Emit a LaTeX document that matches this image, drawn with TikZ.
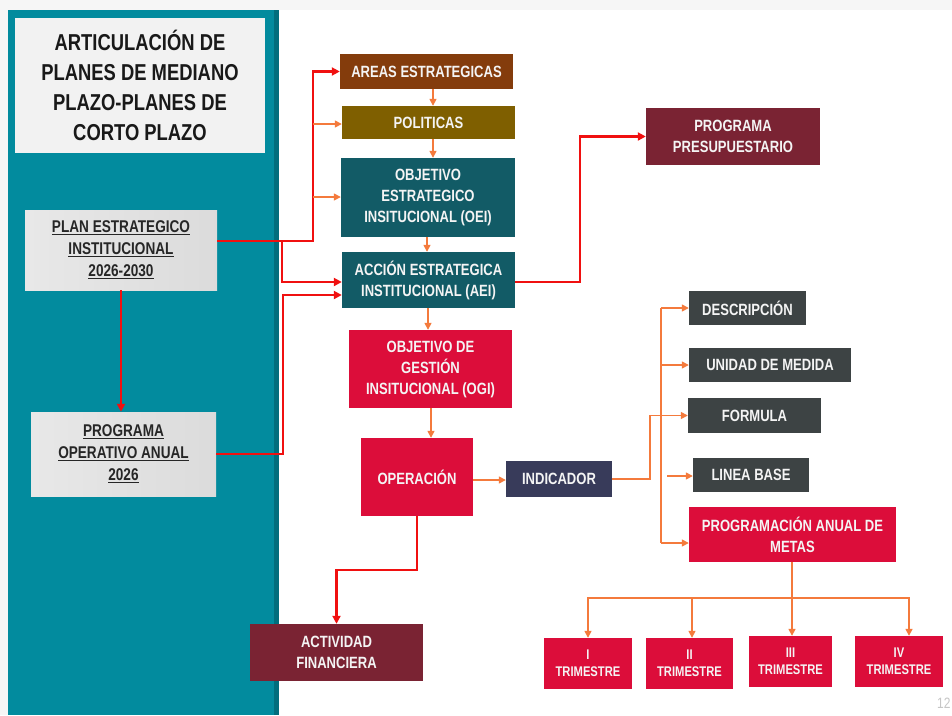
\documentclass[tikz,border=0pt]{standalone}
\usepackage{fontspec}
\newfontfamily\nf[FakeStretch=0.8]{Liberation Sans}
\usetikzlibrary{arrows.meta}
\definecolor{cTeal}{HTML}{028B9E}
\definecolor{cTealD}{HTML}{016E7D}
\definecolor{cAreas}{HTML}{843C0C}
\definecolor{cPol}{HTML}{7F5F00}
\definecolor{cOei}{HTML}{125B66}
\definecolor{cCrim}{HTML}{DC0D3A}
\definecolor{cInd}{HTML}{383B5A}
\definecolor{cGrey}{HTML}{3D4344}
\definecolor{cMar}{HTML}{7A2333}
\definecolor{cRed}{HTML}{F01010}
\definecolor{cOr}{HTML}{F47A3C}
\definecolor{cTxt}{HTML}{F4F4F4}
\newcommand\myul[1]{\leavevmode\vtop{\hbox{#1}\kern0.8pt\hrule height 1.3pt}}
\begin{document}
\begin{tikzpicture}[x=1pt,y=-1pt,
  box/.style={draw=none, inner sep=0pt, align=center, text=cTxt,
    font=\nf\bfseries\fontsize{16.3}{21}\selectfont},
  marble/.style={inner sep=0pt, align=center, text=black!85,
    left color=gray!18, right color=gray!28,
    font=\nf\bfseries\fontsize{17}{22}\selectfont},
  tri/.style={box, fill=cCrim, font=\nf\bfseries\fontsize{14}{17}\selectfont},
  redln/.style={draw=cRed, line width=2.4pt, -{Triangle[length=8pt,width=8pt]}},
  redpl/.style={draw=cRed, line width=2.4pt},
  orln/.style={draw=cOr, line width=1.5pt, -{Triangle[length=7pt,width=7pt]}},
  orpl/.style={draw=cOr, line width=1.5pt}]
\useasboundingbox (0,0) rectangle (952,715);
\fill[gray!7] (0,0) rectangle (952,715);
\fill[white] (278,10) rectangle (952,715);
\fill[cTeal] (8,10) rectangle (278,715);
\fill[cTealD] (274,10) rectangle (279,715);

% title
\node[inner sep=0pt, fill=gray!10, minimum width=250pt, minimum height=135pt, align=center,
  text=black!90, font=\nf\bfseries\fontsize{23}{30}\selectfont] (title) at (140,85.5)
  {ARTICULACIÓN DE\\PLANES DE MEDIANO\\PLAZO-PLANES DE\\CORTO PLAZO};

% left boxes
\node[marble, minimum width=192pt, minimum height=80pt] (plan) at (121,250)
  {\myul{PLAN ESTRATEGICO}\\\myul{INSTITUCIONAL}\\\myul{2026-2030}};
\node[marble, minimum width=185pt, minimum height=84pt] (poa) at (123.5,454)
  {\myul{PROGRAMA}\\\myul{OPERATIVO ANUAL}\\\myul{2026}};

% center column
\node[box, fill=cAreas, minimum width=173pt, minimum height=35pt] (areas) at (426.5,71.5) {AREAS ESTRATEGICAS};
\node[box, fill=cPol, minimum width=173pt, minimum height=33pt] (pol) at (428.5,122.5) {POLITICAS};
\node[box, fill=cOei, minimum width=174pt, minimum height=79pt] (oei) at (428,197.5) {OBJETIVO\\ESTRATEGICO\\INSITUCIONAL (OEI)};
\node[box, fill=cOei, minimum width=173pt, minimum height=56pt] (aei) at (428.5,280) {ACCIÓN ESTRATEGICA\\INSTITUCIONAL (AEI)};
\node[box, fill=cCrim, minimum width=163pt, minimum height=78pt] (ogi) at (430.5,369) {OBJETIVO DE\\GESTIÓN\\INSITUCIONAL (OGI)};
\node[box, fill=cCrim, minimum width=112pt, minimum height=78pt] (oper) at (417,477) {OPERACIÓN};
\node[box, fill=cInd, minimum width=106pt, minimum height=36pt] (ind) at (559,479) {INDICADOR};
\node[box, fill=cMar, minimum width=173pt, minimum height=57pt] (act) at (336.5,652.5) {ACTIVIDAD\\FINANCIERA};
\node[box, fill=cMar, minimum width=174pt, minimum height=57pt] (pp) at (733,136.5) {PROGRAMA\\PRESUPUESTARIO};

% indicator attributes
\node[box, fill=cGrey, minimum width=117pt, minimum height=34pt] (desc) at (747.5,308) {DESCRIPCIÓN};
\node[box, fill=cGrey, minimum width=162pt, minimum height=34pt] (um) at (770,365) {UNIDAD DE MEDIDA};
\node[box, fill=cGrey, minimum width=133pt, minimum height=35pt] (form) at (754.5,415.5) {FORMULA};
\node[box, fill=cGrey, minimum width=116pt, minimum height=34pt] (lb) at (751,475) {LINEA BASE};
\node[box, fill=cCrim, minimum width=207pt, minimum height=55pt] (prog) at (792.5,534.5) {PROGRAMACIÓN ANUAL DE\\METAS};

% trimestres
\node[tri, minimum width=88pt, minimum height=51pt] (t1) at (588,663.5) {I\\TRIMESTRE};
\node[tri, minimum width=87pt, minimum height=51pt] (t2) at (689.5,663.5) {II\\TRIMESTRE};
\node[tri, minimum width=83pt, minimum height=51pt] (t3) at (790.5,661.5) {III\\TRIMESTRE};
\node[tri, minimum width=88pt, minimum height=51pt] (t4) at (899,661.5) {IV\\TRIMESTRE};

\node[text=gray!45, font=\nf\fontsize{15}{15}\selectfont, anchor=west, inner sep=0pt] (pg) at (937,703) {12};

% coordinates
\coordinate (j1) at (282,241);
\coordinate (j2) at (313,124);
\coordinate (j3) at (313,197);
\coordinate (vt) at (661,308);
\coordinate (vb) at (661,543);
\coordinate (lbs) at (667,476);
\coordinate (hb) at (792,598);

% red connectors
\draw[redln] (plan.east|-0,241) -- (313,241) |- (areas.west);
\draw[redln] (j1) |- (aei.west|-0,282);
\draw[redln] (poa.east) -- (283,454) |- (aei.west|-0,295);
\draw[redln] (aei.east|-0,282) -- (580,282) |- (pp.west);
\draw[redln] (plan.south) -- (plan.south|-poa.north);
\draw[redln] (oper.south) -- (417,570) -| (act.north);

% orange connectors
\draw[orln] (j2) -- (pol.west|-j2);
\draw[orln] (j3) -- (oei.west|-j3);
\draw[orln] (areas.south-|433,0) -- (pol.north-|433,0);
\draw[orln] (pol.south-|433,0) -- (oei.north-|433,0);
\draw[orln] (oei.south-|427,0) -- (aei.north-|427,0);
\draw[orln] (aei.south-|428,0) -- (ogi.north-|428,0);
\draw[orln] (ogi.south-|431,0) -- (oper.north-|431,0);
\draw[orln] (oper.east|-0,480) -- (ind.west|-0,480);
\draw[orln] (ind.east) -- (650,479) |- (form.west);
\draw[orpl] (vt) -- (vb);
\draw[orln] (vt) -- (desc.west);
\draw[orln] (vt|-um.west) -- (um.west);
\draw[orln] (vb) -- (prog.west|-vb);
\draw[orln] (lbs) -- (lb.west|-lbs);
\draw[orln] (prog.south-|hb) -- (t3.north-|hb);
\draw[orln] (hb) -| (t1.north);
\draw[orln] (hb) -| (692,0|-t2.north);
\draw[orln] (hb) -| (909,0|-t4.north);
\end{tikzpicture}
\end{document}
